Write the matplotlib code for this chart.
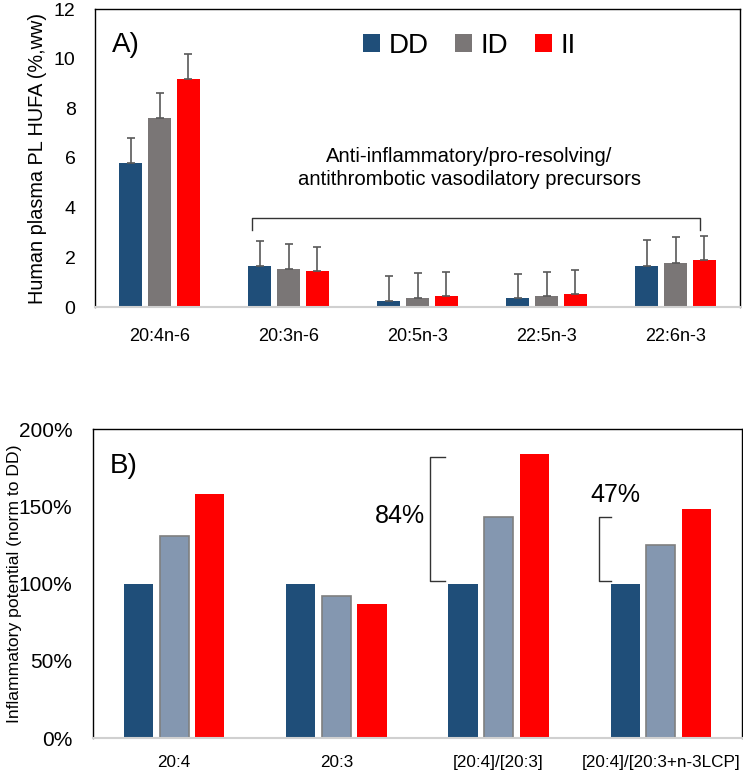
import matplotlib
matplotlib.use("Agg")
import matplotlib.pyplot as plt
import numpy as np

plt.rcParams['font.family'] = ['Liberation Sans', 'DejaVu Sans']

# Panel A data
cats_a = ['20:4n-6', '20:3n-6', '20:5n-3', '22:5n-3', '22:6n-3']
dd_a = [5.8, 1.65, 0.24, 0.36, 1.66]
id_a = [7.6, 1.53, 0.36, 0.44, 1.78]
ii_a = [9.2, 1.45, 0.44, 0.52, 1.90]
dd_err = [1.0, 1.02, 1.01, 0.97, 1.04]
id_err = [1.0, 1.0, 1.01, 0.98, 1.02]
ii_err = [1.0, 0.97, 0.98, 0.98, 0.97]
groups = ['DD', 'ID', 'II']

# Panel B data
cats_b = ['20:4', '20:3', '[20:4]/[20:3]', '[20:4]/[20:3+n-3LCP]']
dd_b = [100, 100, 100, 100]
id_b = [131, 92, 143, 125]
ii_b = [158, 86.5, 184, 148]

c_dd = '#1F4E79'
c_id_a = '#7A7676'
c_id_b = '#8497B0'
c_ii = '#FF0000'

fig = plt.figure(figsize=(7.43, 7.74), dpi=100)
axA = fig.add_axes([95/743, 1-307/774, 645/743, 298/774])
axB = fig.add_axes([93/743, 1-738/774, 649/743, 309/774])

def style(ax):
    for s in ['top', 'right', 'left']:
        ax.spines[s].set_color('black')
        ax.spines[s].set_linewidth(1.0)
    ax.spines['bottom'].set_color('#D0D0D0')
    ax.spines['bottom'].set_linewidth(1.5)
    ax.tick_params(length=0)

# Panel A
x = np.arange(len(cats_a))
w = 0.178
off = 0.222
ekw = dict(ecolor='#595959', elinewidth=1.2, capsize=3, capthick=1.2)
axA.bar(x - off, dd_a, w, color=c_dd, label=groups[0], yerr=[np.zeros(5), dd_err], error_kw=ekw)
axA.bar(x, id_a, w, color=c_id_a, label=groups[1], yerr=[np.zeros(5), id_err], error_kw=ekw)
axA.bar(x + off, ii_a, w, color=c_ii, label=groups[2], yerr=[np.zeros(5), ii_err], error_kw=ekw)
axA.set_xlim(-0.5, 4.5)
axA.set_ylim(0, 12)
axA.set_yticks(range(0, 13, 2))
axA.set_xticks(x)
axA.set_xticklabels(cats_a, fontsize=13)
axA.tick_params(axis='y', labelsize=14, pad=14)
axA.tick_params(axis='x', pad=15)
axA.set_ylabel('Human plasma PL HUFA (%,ww)', fontsize=14.3)
axA.yaxis.set_label_coords(-0.074, 0.5)
style(axA)
axA.text(0.026, 0.88, 'A)', transform=axA.transAxes, fontsize=20, va='center')
leg = axA.legend(loc='upper left', bbox_to_anchor=(0.39, 0.975), ncol=3, frameon=False,
                 fontsize=20, handlelength=0.62, handleheight=0.62, handletextpad=0.3,
                 columnspacing=0.95, borderaxespad=0.2)
# bracket
bl, br = 0.72, 4.19
axA.plot([bl, bl, br, br], [3.1, 3.6, 3.6, 3.1], color='#333333', lw=1.0)
axA.text(2.4, 5.6, 'Anti-inflammatory/pro-resolving/\nantithrombotic vasodilatory precursors',
         ha='center', va='center', fontsize=14.6, linespacing=1.3)

# Panel B
xb = np.arange(len(cats_b))
wb = 0.18
offb = 0.22
axB.bar(xb - offb, dd_b, wb, color=c_dd)
axB.bar(xb, id_b, wb, color=c_id_b, edgecolor='#7F7F7F', linewidth=1.2)
axB.bar(xb + offb, ii_b, wb, color=c_ii)
axB.set_xlim(-0.5, 3.5)
axB.set_ylim(0, 200)
axB.set_yticks(range(0, 201, 50))
axB.set_yticklabels([f'{v}%' for v in range(0, 201, 50)])
axB.set_xticks(xb)
axB.set_xticklabels(cats_b, fontsize=12.3)
axB.tick_params(axis='y', labelsize=15, pad=15)
axB.tick_params(axis='x', pad=12)
axB.set_ylabel('Inflammatory potential (norm to DD)', fontsize=12.6)
axB.yaxis.set_label_coords(-0.110, 0.5)
style(axB)
axB.text(0.026, 0.88, 'B)', transform=axB.transAxes, fontsize=20, va='center')
# brackets
axB.plot([1.67, 1.58, 1.58, 1.67], [182, 182, 101.5, 101.5], color='#333333', lw=1.0)
axB.text(1.39, 144, '84%', ha='center', va='center', fontsize=18)
axB.plot([2.69, 2.62, 2.62, 2.69], [143, 143, 101.5, 101.5], color='#333333', lw=1.0)
axB.text(2.72, 157, '47%', ha='center', va='center', fontsize=18)

fig.savefig('out.png', dpi=100)
